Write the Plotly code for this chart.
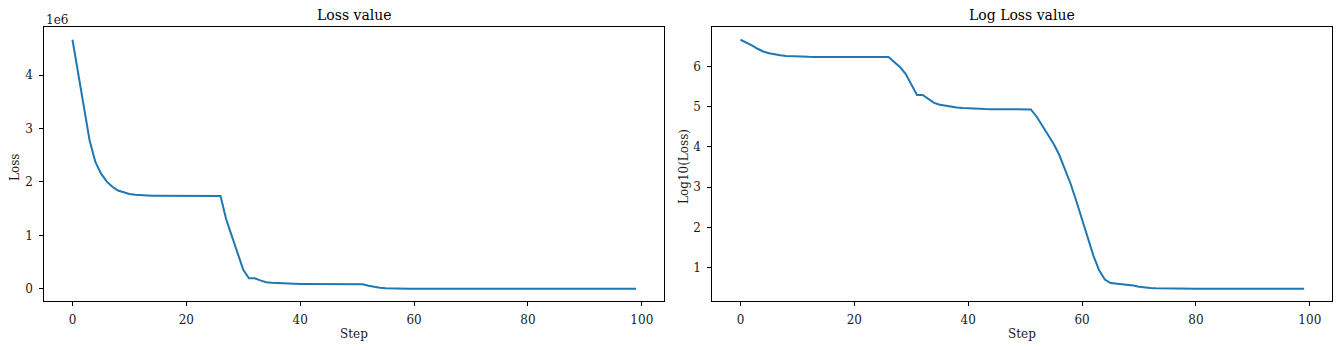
import numpy as np
import plotly.graph_objects as go

# ---------------- data ----------------
steps = list(range(100))

loss_part1 = [4.66e6, 4.05e6, 3.37e6, 2.78e6, 2.38e6, 2.16e6, 2.01e6, 1.91e6, 1.84e6, 1.80e6,
              1.775e6, 1.76e6, 1.75e6, 1.745e6, 1.742e6, 1.740e6, 1.739e6, 1.738e6, 1.737e6, 1.737e6,
              1.736e6, 1.736e6, 1.736e6, 1.735e6, 1.735e6, 1.735e6, 1.735e6]
loss_part2 = [1.30e6, 0.98e6, 0.66e6, 0.355e6, 0.198e6, 0.198e6, 0.158e6, 0.125e6, 0.113e6, 0.106e6,
              0.100e6, 0.096e6, 0.093e6, 0.091e6,
              0.0895e6, 0.0885e6, 0.088e6, 0.0875e6, 0.087e6, 0.0868e6, 0.0866e6, 0.0865e6, 0.0864e6,
              0.0863e6, 0.0862e6]
loss_part3 = [57500, 33900, 20400, 12000, 6310, 2880, 1200, 447, 158, 55, 19.5, 8.5, 5.0, 4.12,
              3.98, 3.89, 3.72, 3.55, 3.31, 3.16, 3.09, 3.04, 3.01, 2.99,
              2.98, 2.975, 2.97, 2.97, 2.965, 2.965, 2.96, 2.96, 2.96, 2.955, 2.955, 2.955,
              2.95, 2.95, 2.95, 2.95, 2.95, 2.95, 2.95, 2.95, 2.95, 2.95, 2.95, 2.95]
loss = loss_part1 + loss_part2 + loss_part3
assert len(loss) == len(steps)

log_loss = np.log10(np.array(loss)).tolist()  # right panel plots log10 of the loss

x_ticks = [0, 20, 40, 60, 80, 100]
loss_ticks = [0, 1e6, 2e6, 3e6, 4e6]
loss_tick_text = ["0", "1", "2", "3", "4"]
log_ticks = [1, 2, 3, 4, 5, 6]

titles = ["Loss value", "Log Loss value"]
y_titles = ["Loss", "Log10(Loss)"]
x_title = "Step"
offset_text = "1e6"

# ---------------- layout ----------------
W, H = 1341, 350
FONT = "DejaVu Serif"
TXT = "#1a1a1a"
LINE = "#1f77b4"


def pad_range(vals, frac=0.05):
    lo, hi = min(vals), max(vals)
    p = (hi - lo) * frac
    return [lo - p, hi + p]


xdom1 = [44.3 / W, 664.3 / W]
xdom2 = [712.3 / W, 1332.3 / W]
ydom = [(H - 301.3) / H, (H - 27.3) / H]

fig = go.Figure()
fig.add_trace(go.Scatter(x=steps, y=loss, mode="lines", line=dict(color=LINE, width=2),
                         xaxis="x", yaxis="y", showlegend=False))
fig.add_trace(go.Scatter(x=steps, y=log_loss, mode="lines", line=dict(color=LINE, width=2),
                         xaxis="x2", yaxis="y2", showlegend=False))

axis_common = dict(showgrid=False, zeroline=False, showline=True, mirror=True,
                   linecolor="black", linewidth=1, ticks="outside", ticklen=4,
                   tickwidth=1, tickcolor="black",
                   tickfont=dict(family=FONT, size=12, color=TXT))

fig.update_layout(
    width=W, height=H,
    margin=dict(l=0, r=0, t=0, b=0),
    paper_bgcolor="white", plot_bgcolor="white",
    xaxis=dict(domain=xdom1, anchor="y", range=pad_range(steps), tickvals=x_ticks,
               ticklabelstandoff=3, **axis_common),
    yaxis=dict(domain=ydom, anchor="x", range=pad_range(loss), tickvals=loss_ticks,
               ticktext=loss_tick_text, ticklabelstandoff=4, **axis_common),
    xaxis2=dict(domain=xdom2, anchor="y2", range=pad_range(steps), tickvals=x_ticks,
                ticklabelstandoff=3, **axis_common),
    yaxis2=dict(domain=ydom, anchor="x2", range=pad_range(log_loss), tickvals=log_ticks,
                ticklabelstandoff=4, **axis_common),
)

ann = []
title_font = dict(family=FONT, size=14, color="black")
lab_font = dict(family=FONT, size=12, color=TXT)
for dom, t, yt, ylx in [(xdom1, titles[0], y_titles[0], 14.3), (xdom2, titles[1], y_titles[1], 683.3)]:
    cx = (dom[0] + dom[1]) / 2
    ann.append(dict(text=t, x=cx, y=(H - 15) / H, xref="paper", yref="paper",
                    xanchor="center", yanchor="middle", showarrow=False, font=title_font))
    ann.append(dict(text=x_title, x=cx, y=(H - 334.3) / H, xref="paper", yref="paper",
                    xanchor="center", yanchor="middle", showarrow=False, font=lab_font))
    ann.append(dict(text=yt, x=ylx / W, y=(H - 166.7) / H, xref="paper", yref="paper",
                    xanchor="center", yanchor="middle", textangle=-90, showarrow=False,
                    font=lab_font))
ann.append(dict(text=offset_text, x=xdom1[0], y=(H - 19.5) / H, xref="paper", yref="paper",
                xanchor="left", yanchor="middle", showarrow=False, font=lab_font))
fig.update_layout(annotations=ann)

fig.write_html("out.html")
